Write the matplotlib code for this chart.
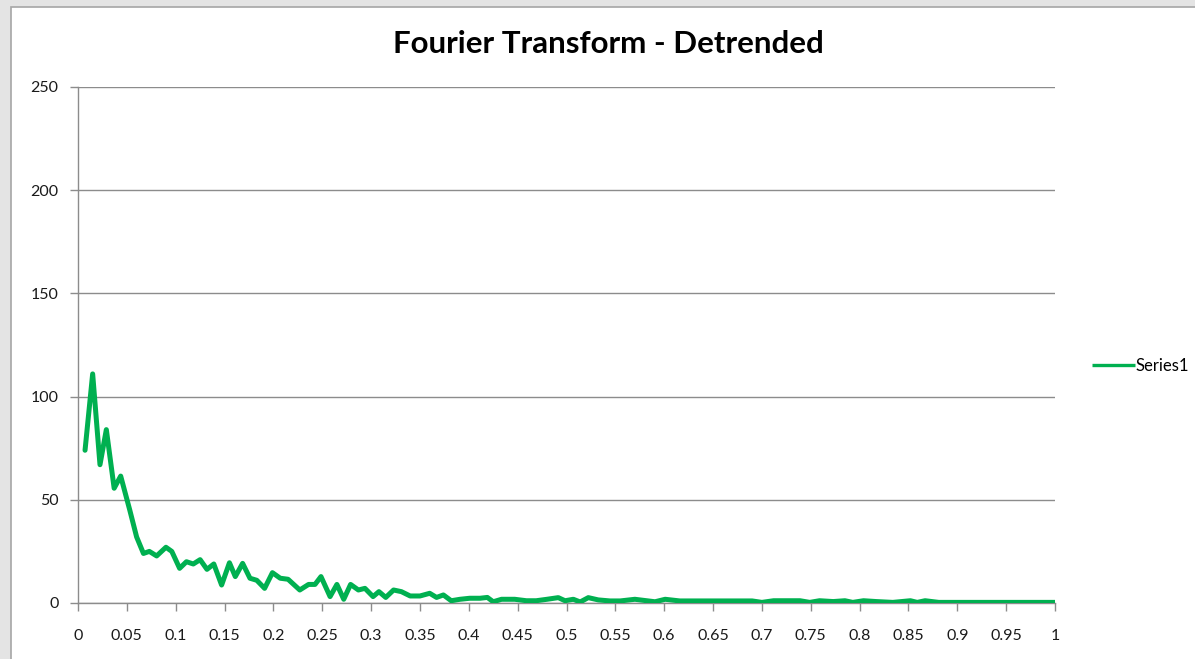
import matplotlib
matplotlib.use("Agg")
import matplotlib.pyplot as plt
from matplotlib.patches import Rectangle

freq = [0.0072, 0.015, 0.0225, 0.029, 0.037, 0.0437, 0.053, 0.060, 0.067, 0.073,
        0.0805, 0.090, 0.096, 0.104, 0.111, 0.118, 0.125, 0.132, 0.139, 0.147,
        0.155, 0.161, 0.1685, 0.176, 0.183, 0.191, 0.199, 0.207, 0.215, 0.227,
        0.236, 0.2426, 0.2487, 0.258, 0.265, 0.272, 0.279, 0.287, 0.2937, 0.302,
        0.308, 0.315, 0.323, 0.331, 0.340, 0.350, 0.360, 0.367, 0.374, 0.382,
        0.391, 0.401, 0.4115, 0.419, 0.425, 0.4335, 0.447, 0.459, 0.469, 0.480,
        0.4916, 0.4985, 0.507, 0.514, 0.5223, 0.5325, 0.5445, 0.555, 0.570, 0.5906,
        0.601, 0.616, 0.65, 0.69, 0.70, 0.712, 0.725, 0.739, 0.749, 0.759,
        0.773, 0.785, 0.793, 0.804, 0.817, 0.834, 0.852, 0.859, 0.867, 0.881,
        0.92, 0.96, 1.0]
amplitude = [74, 111, 67, 84, 55.6, 61.5, 45, 32, 24, 25,
             22.8, 27, 25, 16.8, 20, 18.9, 21, 16.3, 18.9, 8.7,
             19.5, 12.8, 19.2, 12, 11, 7.1, 14.7, 12, 11.5, 6.3,
             9, 9, 12.8, 3.1, 9, 1.8, 9, 6.3, 7.1, 3.1,
             5.5, 2.7, 6.3, 5.5, 3.4, 3.4, 4.7, 2.7, 3.9, 1.1,
             1.8, 2.3, 2.3, 2.7, 0.6, 1.8, 1.8, 1.1, 1.1, 1.8,
             2.6, 1.1, 1.8, 0.5, 2.6, 1.5, 1.0, 1.0, 1.8, 0.6,
             1.8, 1.0, 1.0, 1.0, 0.3, 1.1, 1.1, 1.1, 0.3, 1.1,
             0.7, 1.1, 0.3, 1.1, 0.7, 0.3, 1.1, 0.3, 1.1, 0.3,
             0.3, 0.3, 0.3]

x_ticks = [round(0.05 * i, 2) for i in range(21)]
x_labels = ["0", "0.05", "0.1", "0.15", "0.2", "0.25", "0.3", "0.35", "0.4", "0.45",
            "0.5", "0.55", "0.6", "0.65", "0.7", "0.75", "0.8", "0.85", "0.9", "0.95", "1"]
y_ticks = [0, 50, 100, 150, 200, 250]

plt.rcParams['font.family'] = ['Lato', 'DejaVu Sans']

W, H = 1195, 659
fig = plt.figure(figsize=(W / 100, H / 100), dpi=100, facecolor='#e4e4e4')
# white chart area
fig.patches.append(Rectangle((11 / W, -0.01), 1.1, 1 - 7 / H + 0.01, transform=fig.transFigure,
                             facecolor='white', edgecolor='#a6a6a6', linewidth=1.2, zorder=-10))

ax = fig.add_axes([78 / W, 56 / H, 977 / W, 516 / H])
ax.set_facecolor('white')
ax.patch.set_alpha(0)
ax.plot(freq, amplitude, color='#00B050', linewidth=3.6, solid_joinstyle='round',
        solid_capstyle='round', label='Series1', zorder=3)
ax.set_xlim(0, 1)
ax.set_ylim(0, 250)
ax.set_xticks(x_ticks)
ax.set_xticklabels(x_labels)
ax.set_yticks(y_ticks)
ax.yaxis.grid(True, color='#8c8c8c', linewidth=1)
ax.set_axisbelow(True)
for s in ['top', 'right']:
    ax.spines[s].set_visible(False)
for s in ['left', 'bottom']:
    ax.spines[s].set_color('#8c8c8c')
    ax.spines[s].set_linewidth(1)
ax.tick_params(axis='both', direction='out', length=6, width=1, color='#8c8c8c',
               labelsize=11.5, labelcolor='#1a1a1a')
ax.tick_params(axis='x', pad=13)
ax.tick_params(axis='y', pad=8)

fig.text(608 / W, 1 - 44 / H, 'Fourier Transform - Detrended', ha='center', va='center',
         fontsize=22.5, fontweight='bold', color='black')

leg = fig.legend(loc='center left', bbox_to_anchor=(1085 / W, 1 - 366 / H), frameon=False,
                 fontsize=12, handlelength=2.6, handletextpad=0.05, borderaxespad=0)
for h in leg.get_lines():
    h.set_linewidth(2.4)
    h.set_solid_capstyle('butt')

fig.savefig('out.png', dpi=100, facecolor=fig.get_facecolor())
